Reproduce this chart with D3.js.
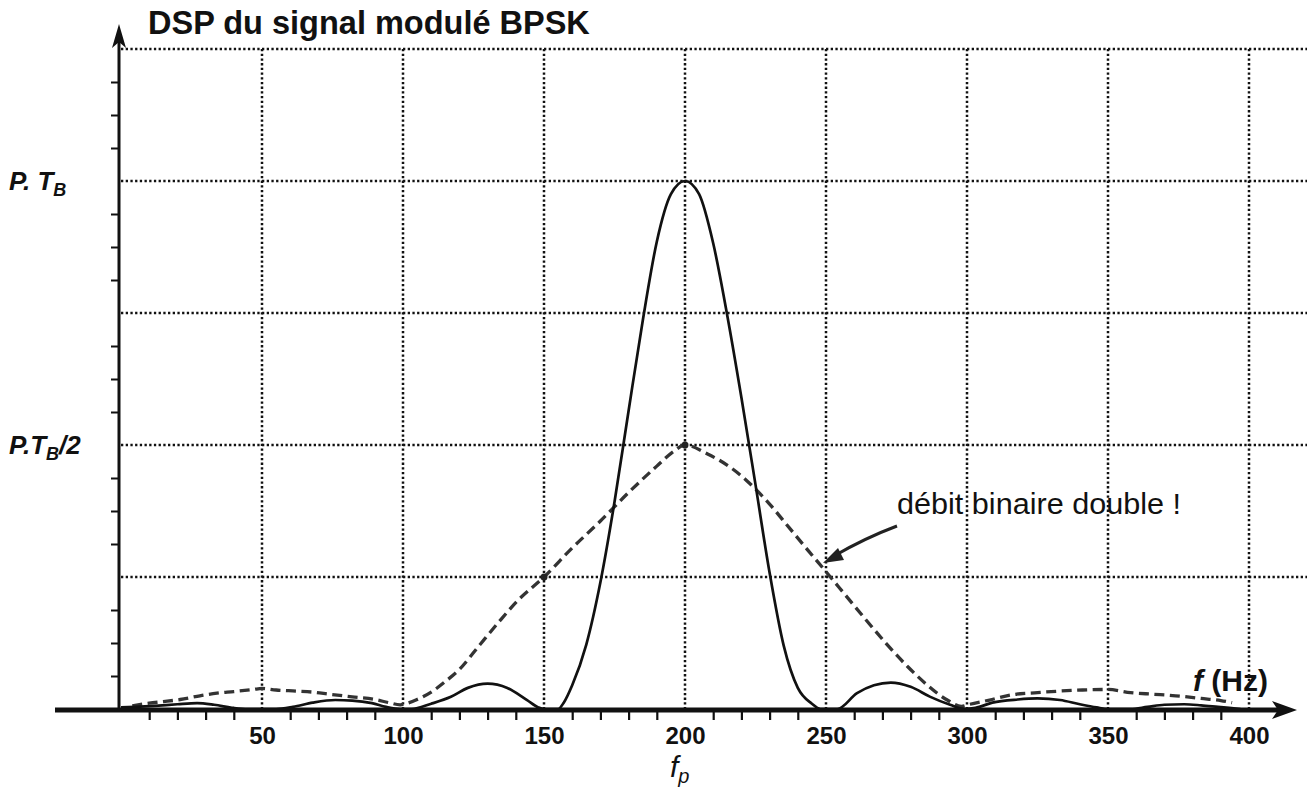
<!DOCTYPE html>
<html>
<head>
<meta charset="utf-8">
<script src="https://cdn.jsdelivr.net/npm/d3@7"></script>
<style>
  html, body { margin: 0; padding: 0; background: #fff; }
  svg { display: block; }
  text { font-family: "Liberation Sans", Arial, sans-serif; fill: #111; }
</style>
</head>
<body>
<svg id="chart" width="1307" height="791"></svg>
<script>
// ---- data ----
const title = "DSP du signal modulé BPSK";
const xTickValues = [50, 100, 150, 200, 250, 300, 350, 400];
const xMinorTicks = [10,20,30,40,60,70,80,90,110,120,130,140,160,170,180,190,210,220,230,240,260,270,280,290,310,320,330,340,360,370,380,390];
const yGridValues = [0.25, 0.5, 0.75, 1, 1.25];
const yMinorTicks = [0.0625,0.125,0.1875,0.3125,0.375,0.4375,0.5625,0.625,0.6875,0.8125,0.875,0.9375,1.0625,1.125,1.1875];
const yLabels = [{v: 1, main: "P. T", sub: "B", tail: ""}, {v: 0.5, main: "P.T", sub: "B", tail: "/2"}];

// solid: DSP at bit rate (frequency Hz, relative level)
const solidF = [0,5,12,20,27,33,40,45,55,61,68,76,82,89,94,99,103,110,117,123,130,137,144,148,150,155,157,160,165,170,175,180,185,190,195,200,205,210,215,220,225,230,235,240,245,248,254,261,267,273,280,287,294,299,303,309,318,325,333,340,346,350,358,364,370,377,383,389,397];
const solidV = [0.003,0.004,0.006,0.009,0.011,0.008,0.002,0,0,0.004,0.012,0.017,0.016,0.011,0.004,0,0,0.01,0.023,0.04,0.048,0.04,0.017,0.003,0,0,0.012,0.045,0.122,0.24,0.392,0.565,0.735,0.885,0.975,1,0.975,0.882,0.745,0.59,0.425,0.258,0.12,0.04,0.01,0,0,0.03,0.045,0.05,0.042,0.023,0.008,0,0.002,0.012,0.018,0.02,0.017,0.009,0.003,0,0,0.004,0.008,0.009,0.007,0.004,0];

// dashed: DSP at double bit rate
const dashF = [4,10,15,21,28,34,40,47,50,55,62,68,74,82,90,95,99,101,105,110,115,120,127,134,141,150,160,170,180,190,196,200,208,216,222,230,237,244,250,257,264,272,279,286,293,298,301,308,316,325,333,341,350,358,366,374,383,390,394];
const dashV = [0.006,0.011,0.014,0.018,0.025,0.03,0.033,0.037,0.039,0.036,0.034,0.032,0.028,0.023,0.018,0.012,0.008,0.01,0.018,0.032,0.052,0.075,0.12,0.165,0.207,0.25,0.305,0.356,0.41,0.46,0.488,0.5,0.483,0.458,0.432,0.388,0.343,0.298,0.26,0.215,0.17,0.12,0.08,0.045,0.017,0.005,0.009,0.017,0.027,0.031,0.034,0.036,0.037,0.031,0.028,0.025,0.02,0.016,0.012];

const annotation = "débit binaire double !";

// ---- drawing ----
const svg = d3.select("#chart");
const x = d3.scaleLinear().domain([0, 400]).range([121, 1249]);
const y = d3.scaleLinear().domain([0, 1.25]).range([709, 49]);

// gridlines
const grid = svg.append("g").attr("stroke", "#111").attr("stroke-width", 2.5).attr("stroke-dasharray", "2.3,2.4");
grid.selectAll("line.h").data(yGridValues).join("line").attr("class", "h")
  .attr("x1", x(0)).attr("x2", 1307).attr("y1", d => y(d)).attr("y2", d => y(d));
grid.selectAll("line.v").data(xTickValues).join("line").attr("class", "v")
  .attr("x1", d => x(d)).attr("x2", d => x(d)).attr("y1", y(1.25)).attr("y2", y(0));

// y minor ticks (left)
const yAxis = d3.axisLeft(y).tickValues(yMinorTicks).tickSize(8).tickFormat("");
const gy = svg.append("g").attr("transform", `translate(${x(0) - 2},0)`).call(yAxis);
gy.select(".domain").remove();
gy.selectAll(".tick line").attr("stroke", "#111").attr("stroke-width", 2);

// x minor ticks (below)
const xAxisMinor = d3.axisBottom(x).tickValues(xMinorTicks).tickSize(9).tickFormat("");
const gxm = svg.append("g").attr("transform", `translate(0,${y(0) + 2})`).call(xAxisMinor);
gxm.select(".domain").remove();
gxm.selectAll(".tick line").attr("stroke", "#111").attr("stroke-width", 2.2);

// x labels
const xAxisLab = d3.axisBottom(x).tickValues(xTickValues).tickSize(0).tickPadding(0).tickFormat(d3.format("d"));
const gxl = svg.append("g").attr("transform", `translate(0,${y(0) + 35})`).call(xAxisLab);
gxl.select(".domain").remove();
gxl.selectAll(".tick text").attr("dy", 0).attr("font-size", 24).attr("font-weight", "bold")
  .attr("font-family", "Liberation Sans, Arial, sans-serif").attr("fill", "#111");

// curves
const line = d3.line().x(d => x(d[0])).y(d => y(d[1])).curve(d3.curveMonotoneX);
const solid = solidF.map((f, i) => [f, solidV[i]]);
const dashed = dashF.map((f, i) => [f, dashV[i]]);
svg.append("path").datum(dashed).attr("d", line).attr("fill", "none")
  .attr("stroke", "#333").attr("stroke-width", 3.3).attr("stroke-dasharray", "10,5.5");
svg.append("path").datum(solid).attr("d", line).attr("fill", "none")
  .attr("stroke", "#111").attr("stroke-width", 2.7);

// marks on dashed curve
svg.selectAll("circle.m").data([[200, 0.5], [150, 0.25]]).join("circle").attr("class", "m")
  .attr("cx", d => x(d[0])).attr("cy", d => y(d[1])).attr("r", 3.5).attr("fill", "#222");

// axes lines with arrows
svg.append("line").attr("x1", 55).attr("x2", 1280).attr("y1", y(0) + 1).attr("y2", y(0) + 1)
  .attr("stroke", "#111").attr("stroke-width", 5);
svg.append("path").attr("d", `M1297,${y(0) + 1} L1272,${y(0) - 8} L1278,${y(0) + 1} L1272,${y(0) + 10} Z`).attr("fill", "#111");
svg.append("line").attr("x1", x(0) - 2).attr("x2", x(0) - 2).attr("y1", y(0) + 1).attr("y2", 40)
  .attr("stroke", "#111").attr("stroke-width", 3);
svg.append("path").attr("d", `M${x(0) - 2},24 L${x(0) - 9},48 L${x(0) - 2},42 L${x(0) + 5},48 Z`).attr("fill", "#111");

// title
svg.append("text").attr("x", 148).attr("y", 34).attr("font-size", 32.5).attr("font-weight", "bold").text(title);

// y labels
yLabels.forEach(l => {
  const t = svg.append("text").attr("x", 9).attr("y", y(l.v) + 9).attr("font-size", 26)
    .attr("font-weight", "bold").attr("font-style", "italic");
  t.append("tspan").text(l.main);
  t.append("tspan").attr("font-size", 18).attr("dy", 6).text(l.sub);
  if (l.tail) t.append("tspan").attr("dy", -6).text(l.tail);
});

// f (Hz)
const fh = svg.append("text").attr("x", 1193).attr("y", 691).attr("font-size", 30).attr("font-weight", "bold");
fh.append("tspan").attr("font-style", "italic").text("f");
fh.append("tspan").text(" (Hz)");

// f_p
const fp = svg.append("text").attr("x", 670).attr("y", 777).attr("font-size", 30).attr("font-style", "italic");
fp.append("tspan").text("f");
fp.append("tspan").attr("font-size", 20).attr("dy", 6).text("p");

// handwritten annotation
svg.append("text").attr("x", 897).attr("y", 514).attr("font-size", 30)
  .attr("font-family", "DejaVu Sans, sans-serif").attr("fill", "#222")
  .attr("textLength", 284).attr("lengthAdjust", "spacingAndGlyphs").text(annotation);
svg.append("path").attr("d", "M897,526 Q865,538 834,556").attr("fill", "none").attr("stroke", "#222").attr("stroke-width", 3);
svg.append("path").attr("d", "M823,563 L838,548 L844,560 Z").attr("fill", "#222");
</script>
</body>
</html>
